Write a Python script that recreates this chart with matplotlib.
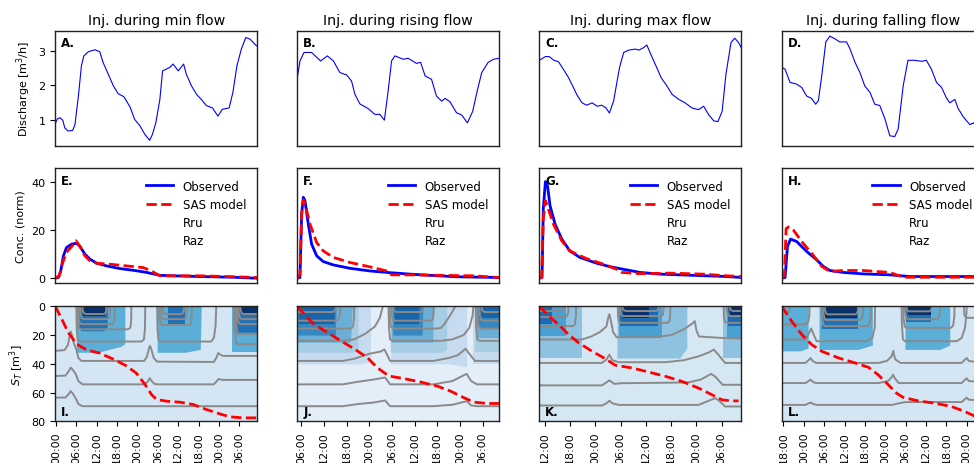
import numpy as np
import matplotlib
matplotlib.use("Agg")
import matplotlib.pyplot as plt

# time windows, hours from midnight of the first day of each window
XLIM_MIN = (-0.2, 59.3)
XLIM_RISE = (4.93, 58.45)
XLIM_MAX = (10.65, 58.65)
XLIM_FALL = (17.5, 77.0)

TITLES = ["Inj. during min flow", "Inj. during rising flow",
          "Inj. during max flow", "Inj. during falling flow"]

# discharge [m3/h]  (hour, q)
Q_MIN = [(-0.2,0.88),(0.4,1.02),(1.2,1.05),(2.0,0.98),(2.6,0.75),(3.6,0.66),(4.9,0.68),(5.6,0.85),
         (6.6,1.69),(7.5,2.58),(8.2,2.87),(9.5,2.99),(11.5,3.05),(12.9,2.99),(13.9,2.67),(15.4,2.33),
         (16.9,1.99),(18.3,1.76),(20.0,1.67),(21.8,1.37),(23.2,1.00),(24.7,0.82),(26.2,0.56),(27.6,0.39),
         (28.4,0.56),(29.4,0.90),(30.6,1.59),(31.4,2.43),(32.5,2.48),(33.5,2.53),(34.5,2.63),(36.0,2.43),
         (37.6,2.63),(38.4,2.33),(39.9,1.99),(41.4,1.74),(42.8,1.59),(44.3,1.41),(46.1,1.34),(47.7,1.10),
         (49.0,1.30),(51.0,1.34),(52.1,1.79),(53.3,2.58),(54.6,3.07),(55.9,3.41),(57.2,3.36),(58.5,3.22),
         (59.3,3.15)]
Q_RISE = [(4.93,2.23),(5.64,2.72),(6.70,2.97),(8.73,2.97),(11.1,2.72),(12.9,2.87),(14.5,2.72),(16.2,2.38),
          (18.0,2.31),(19.3,2.13),(20.2,1.74),(21.5,1.46),(23.7,1.32),(25.5,1.15),(26.8,1.15),(28.0,0.98),
          (29.0,1.84),(29.9,2.72),(30.8,2.87),(33.0,2.77),(34.3,2.80),(36.5,2.65),(37.6,2.68),(38.8,2.28),
          (40.5,2.18),(41.8,1.69),(43.2,1.54),(44.1,1.62),(45.4,1.52),(47.1,1.20),(48.5,1.13),(50.0,0.90),
          (51.4,1.24),(52.6,1.84),(53.8,2.38),(55.5,2.68),(56.9,2.77),(58.45,2.80)]
Q_MAX = [(10.65,2.74),(12.1,2.85),(13.0,2.85),(14.1,2.74),(15.2,2.70),(16.4,2.47),(17.6,2.23),(18.8,1.93),
         (19.6,1.72),(20.8,1.49),(21.9,1.42),(23.2,1.49),(24.4,1.39),(25.5,1.42),(26.5,1.34),(27.3,1.19),
         (28.3,1.54),(29.7,2.52),(30.7,2.97),(31.9,3.04),(33.5,3.07),(34.3,3.04),(35.4,3.11),(36.2,3.19),
         (37.3,2.87),(38.4,2.57),(39.6,2.23),(41.0,1.98),(42.2,1.74),(43.8,1.59),(45.3,1.49),(46.9,1.34),
         (48.5,1.29),(49.7,1.39),(50.9,1.14),(52.1,0.96),(53.1,0.94),(54.1,1.24),(55.0,2.33),(56.2,3.26),
         (57.1,3.39),(58.0,3.26),(58.65,3.11)]
Q_FALL = [(17.5,2.53),(18.5,2.48),(19.95,2.09),(21.9,2.04),(23.4,1.94),(24.85,1.69),(26.3,1.62),(27.5,1.45),
          (28.3,1.55),(29.3,2.29),(30.5,3.28),(31.7,3.45),(33.2,3.37),(34.6,3.28),(36.6,3.28),(37.6,3.08),
          (39.1,2.68),(40.5,2.39),(42.0,1.98),(43.5,1.80),(44.9,1.45),(46.4,1.41),(47.9,1.02),(49.35,0.52),
          (50.8,0.50),(51.8,0.72),(53.3,2.00),(54.7,2.74),(56.7,2.74),(58.7,2.71),(60.1,2.74),(61.6,2.48),
          (63.1,2.09),(64.6,1.94),(66.0,1.64),(67.0,1.49),(68.5,1.59),(69.4,1.34),(70.9,1.09),(72.9,0.85),
          (74.0,0.90),(74.6,0.82)]

# normalised concentration  (hour, c)
OBS_MIN = [(-0.2,0),(0.7,0.3),(1.4,3.0),(2.2,9.3),(3.1,12.7),(4.6,14.1),(6.1,14.5),(7.1,13.1),(8.5,10.0),
           (10.0,7.9),(12.0,6.2),(14.9,5.1),(18.8,4.0),(22.7,3.3),(26.7,2.4),(30.6,1.2),(34.5,1.0),
           (42.3,0.7),(52.1,0.4),(59.3,0.0)]
SAS_MIN = [(-0.2,0),(1.0,1.0),(2.0,6.5),(3.1,10.7),(4.6,13.1),(5.9,15.5),(7.1,13.1),(8.5,9.3),(10.0,7.2),
           (12.0,6.2),(15.9,5.8),(20.8,5.1),(25.7,4.4),(28.1,3.0),(30.6,1.0),(34.5,1.0),(42.3,1.0),
           (50.2,0.7),(59.3,0.3)]
OBS_RISE = [(4.93,0),(5.64,0.3),(6.08,26.6),(6.52,33.5),(6.96,32.1),(7.84,22.4),(8.73,14.1),(10.05,9.3),
            (11.8,6.9),(14.5,5.5),(18.9,4.1),(24.2,3.0),(29.5,2.3),(34.8,1.7),(40.1,1.2),(47.1,0.6),
            (58.45,0.3)]
SAS_RISE = [(4.93,0),(5.64,1.7),(6.08,26.6),(6.52,32.4),(7.2,29.4),(8.3,22.4),(10.05,14.8),(11.8,11.3),
            (14.5,8.6),(18.9,6.5),(24.2,4.7),(28.6,3.0),(29.9,1.4),(34.8,1.4),(42.7,1.2),(51.5,1.0),
            (58.45,0.3)]
OBS_MAX = [(10.65,0),(11.3,0.3),(11.6,28.7),(12.1,40.0),(12.6,38.3),(13.2,30.0),(14.4,22.4),(16.0,16.2),
           (17.9,11.3),(20.3,8.6),(24.3,6.2),(27.4,4.8),(30.6,3.7),(34.6,2.4),(39.3,1.7),(47.2,1.2),
           (55.2,0.7),(58.65,0.3)]
SAS_MAX = [(10.65,0),(11.2,0.3),(11.6,24.6),(12.1,32.1),(12.8,28.7),(14.0,22.4),(16.0,15.5),(17.9,11.3),
           (21.9,8.1),(26.6,5.4),(29.0,3.7),(30.2,2.4),(34.6,1.9),(41.7,2.1),(49.6,1.7),(55.2,1.0),
           (58.65,0.7)]
OBS_FALL = [(17.5,0),(18.5,0.3),(19.2,13.1),(20.1,16.2),(21.9,15.2),(24.85,11.1),(27.8,7.6),(29.75,4.9),
            (31.7,3.2),(35.6,2.4),(41.5,1.8),(49.35,1.4),(55.2,0.7),(75.0,0.7)]
SAS_FALL = [(17.5,0),(18.3,1.1),(18.8,20.5),(19.5,21.2),(21.0,19.8),(23.9,14.3),(26.8,9.5),(29.3,4.9),
            (31.7,2.8),(35.6,3.2),(41.5,3.2),(49.35,2.4),(53.3,0.4),(59.2,0.4),(75.0,0.4)]

# tracer position in age-ranked storage S_T [m3]  (hour, S_T)
ST_MIN = [(-0.2,0),(1.7,8.9),(3.6,18.2),(6.1,26.3),(9.0,30.3),(12.9,32.6),(16.9,36.8),(20.8,41.5),
          (23.7,46.6),(26.2,54.3),(28.1,61.3),(29.6,64.8),(32.5,66.0),(36.5,66.7),(40.4,68.3),(44.3,71.8),
          (48.2,74.8),(51.2,76.9),(55.1,77.6),(59.3,77.6)]
ST_RISE = [(4.93,0),(6.7,5.4),(9.3,12.4),(12.9,18.2),(16.4,24.0),(19.9,29.4),(23.5,35.7),(26.1,42.7),
           (29.2,48.5),(33.2,50.3),(37.6,52.7),(42.0,55.5),(45.5,59.0),(49.1,63.6),(51.7,66.7),(55.3,67.6),
           (58.45,67.6)]
ST_MAX = [(10.65,0),(12.9,6.8),(15.2,12.6),(17.6,19.6),(20.0,25.4),(23.2,31.3),(26.3,36.4),(28.7,41.0),
          (32.7,42.9),(36.6,45.7),(40.6,48.7),(44.5,52.2),(48.5,56.9),(51.7,61.6),(54.1,65.1),(56.4,65.8),
          (58.0,65.8)]
ST_FALL = [(17.5,0),(20.4,10.3),(23.4,19.6),(26.3,26.6),(29.3,31.3),(34.2,35.9),(39.1,39.4),(43.0,42.4),
           (45.9,47.6),(48.9,54.6),(51.3,60.4),(53.3,63.4),(57.7,65.8),(62.6,67.4),(67.5,69.7),(71.4,73.2),
           (74.0,76.0),(75.5,78.5)]

# filled storage-selection bands: (level, [(hour, lower S_T edge), ...]) from S_T = 0 down
FILL_MIN = [
    (0, [(6.0,0),(6.0,32),(12.5,32),(15.5,30),(19.0,28),(20.3,26),(20.3,0)]),
    (0, [(29.8,0),(29.8,32),(38.0,32),(42.5,30),(42.8,0)]),
    (0, [(51.8,0),(51.8,32),(59.3,32)]),
    (1, [(6.7,0),(6.7,15),(7.5,17),(14.0,17),(15.1,14),(15.1,0)]),
    (1, [(33.0,0),(33.0,13),(37.9,13),(37.9,0)]),
    (1, [(52.2,0),(52.2,16),(53.0,18),(59.3,18)]),
    (2, [(8.0,0),(8.0,7),(14.4,7),(14.4,0)]),
    (2, [(53.3,0),(53.3,5),(59.3,5)]),
]
FILL_RISE = [
    (0, [(4.93,40),(22.0,40),(24.3,38),(24.3,0)]),
    (0, [(29.6,0),(29.6,40),(45.0,40),(49.8,42),(49.8,0)]),
    (0, [(51.6,0),(51.6,40),(58.45,40)]),
    (1, [(4.93,32),(19.5,32),(21.0,30),(21.0,0)]),
    (1, [(29.6,0),(29.6,32),(43.0,32),(44.5,30),(44.5,0)]),
    (1, [(52.0,0),(52.0,32),(58.45,32)]),
    (2, [(4.93,25),(19.0,25),(19.5,0)]),
    (2, [(29.8,0),(29.8,25),(40.8,25),(41.0,0)]),
    (2, [(52.4,0),(52.4,22),(58.45,22)]),
    (3, [(4.93,20),(15.0,20),(15.2,0)]),
    (3, [(30.2,0),(30.2,20),(38.0,20),(38.2,0)]),
    (3, [(52.8,0),(52.8,15),(58.45,15)]),
    (4, [(5.3,0),(5.3,12),(14.6,12),(14.8,0)]),
    (4, [(30.6,0),(30.6,12),(37.0,12),(37.2,0)]),
    (4, [(53.2,0),(53.2,8),(58.45,8)]),
]
FILL_MAX = [
    (0, [(10.65,36),(20.8,36),(20.8,0)]),
    (0, [(29.1,0),(29.1,36),(44.0,36),(45.7,29),(45.7,0)]),
    (0, [(54.4,0),(54.4,36),(58.65,36)]),
    (1, [(10.65,21),(16.9,21),(16.9,0)]),
    (1, [(29.5,0),(29.5,22),(39.7,22),(39.7,0)]),
    (1, [(55.2,0),(55.2,22),(58.65,22)]),
    (2, [(10.65,12),(13.7,12),(13.7,0)]),
    (2, [(29.9,0),(29.9,14),(38.8,14),(38.8,0)]),
    (2, [(55.6,0),(55.6,14),(58.65,14)]),
    (3, [(30.5,0),(30.5,8),(36.6,8),(36.6,0)]),
    (3, [(56.0,0),(56.0,6),(58.65,6)]),
]
FILL_FALL = [
    (0, [(17.5,31),(23.0,31),(25.3,29),(25.3,0)]),
    (0, [(28.5,0),(28.5,30),(40.0,30),(44.2,27),(44.2,0)]),
    (0, [(53.8,0),(53.8,30),(64.0,30),(67.0,27),(67.0,0)]),
    (1, [(29.3,0),(29.3,16),(40.1,16),(40.1,0)]),
    (1, [(54.2,0),(54.2,11),(61.6,11),(61.6,0)]),
    (2, [(29.8,0),(29.8,8),(39.6,8),(39.6,0)]),
    (2, [(54.7,0),(54.7,6),(61.4,6),(61.4,0)]),
]

# grey contour lines (hour, S_T)
GRAY_MIN = [
    [(7.8,0),(7.9,3.0),(8.2,4.7),(8.8,5.4),(14.0,5.4),(14.6,4.7),(14.85,3.0),(14.9,0)],
    [(7.1,0),(7.2,5.5),(7.5,8.2),(8.1,8.9),(15.0,8.9),(15.6,8.2),(15.85,5.5),(15.9,0)],
    [(6.6,0),(6.7,8.0),(7.0,11.6),(7.7,12.4),(16.4,12.4),(17.0,11.6),(17.25,8.0),(17.3,0)],
    [(6.3,0),(6.4,10.0),(6.7,15.0),(7.4,16.0),(21.2,16.0),(21.9,15.0),(22.15,10.0),(22.2,0)],
    [(6.0,0),(6.1,16.0),(6.4,23.3),(7.1,24.5),(25.2,24.5),(25.9,23.0),(26.2,16.0),(26.3,0)],
    [(-0.2,31),(2.5,30.5),(3.5,27),(4.0,21),(4.3,17.5),(4.7,20),(5.3,26),(6.0,30),(6.6,36),(7.5,38),
     (26.0,38),(26.8,35),(27.4,29),(27.7,27.5),(28.1,30),(28.8,36),(29.8,38.5),(46.5,38.7),(47.3,35.5),
     (47.8,32.5),(48.3,33.5),(49.2,34.5),(59.3,34.5)],
    [(-0.2,48.5),(2.8,48.2),(3.8,45),(4.3,42.7),(4.9,44),(5.8,47),(6.6,52),(7.8,54.3),(26.0,54.3),
     (27.0,52.5),(27.6,50),(28.2,52),(29.0,54),(30.0,54.3),(46.5,54.3),(47.4,52),(47.9,50.5),(48.5,51),
     (49.5,51.2),(59.3,51.2)],
    [(-0.2,63.6),(2.8,63.4),(3.8,61),(4.3,59),(4.9,60.5),(5.8,64),(6.6,68),(7.8,69.5),(59.3,69.5)],
    [(31.3,0),(31.4,3.0),(31.7,4.7),(32.3,5.4),(37.0,5.4),(37.4,4.7),(37.65,3.0),(37.7,0)],
    [(30.8,0),(30.9,5.5),(31.2,8.2),(31.8,8.9),(37.8,8.9),(38.2,8.2),(38.45,5.5),(38.5,0)],
    [(30.4,0),(30.5,8.0),(30.8,12.2),(31.4,13.0),(39.3,13.0),(39.7,12.2),(39.95,8.0),(40.0,0)],
    [(29.8,0),(29.9,16.0),(30.2,23.3),(30.9,24.5),(45.7,24.5),(46.5,22.0),(47.0,14.0),(47.2,0)],
    [(54.3,0),(54.4,3.0),(54.7,4.7),(55.3,5.4),(59.3,5.4)],
    [(53.8,0),(53.9,5.5),(54.2,8.2),(54.8,8.9),(59.3,8.9)],
    [(53.4,0),(53.5,8.0),(53.8,11.6),(54.4,12.4),(59.3,12.4)],
    [(53.0,0),(53.1,12.0),(53.4,18.3),(54.0,19.3),(59.3,19.3)],
    [(52.6,0),(52.7,16.0),(53.0,25.3),(53.6,26.3),(59.3,26.3)],
]
GRAY_RISE = [
    [(4.93,4),(14.3,4),(14.9,3),(15.15,1.5),(15.2,0)],
    [(4.93,10),(15.3,10),(15.9,9),(16.25,5),(16.3,0)],
    [(4.93,15.5),(19.0,15.5),(19.7,14),(19.95,8),(20.0,0)],
    [(4.93,24),(17.0,24),(20.0,23),(23.0,19),(25.5,14),(26.8,8),(27.6,0)],
    [(4.93,38),(17.0,38),(20.0,36.5),(24.0,33),(27.0,31.5),(28.0,30),(28.6,33),(29.5,38),(41.0,38),
     (45.0,36),(47.5,34),(49.5,29.5),(50.5,33),(52.0,38),(58.45,38)],
    [(4.93,54.3),(17.0,54.3),(21.0,52.5),(25.0,51),(28.2,49.5),(29.5,54.3),(41.0,54.3),(46.0,52),
     (49.8,47),(51.0,52),(52.5,54.3),(58.45,54.3)],
    [(4.93,69.5),(17.0,69.5),(21.0,68),(25.0,67),(28.2,65.5),(29.5,69.5),(41.0,69.5),(46.0,68.5),
     (49.8,66),(51.0,69),(52.5,69.5),(58.45,69.5)],
    [(30.4,0),(30.5,2.5),(30.8,3.6),(31.3,4),(37.6,4),(38.1,3.2),(38.35,1.5),(38.4,0)],
    [(29.8,0),(29.9,6),(30.2,9.2),(30.8,10),(40.3,10),(40.8,9),(41.05,5),(41.1,0)],
    [(29.4,0),(29.5,9),(29.8,14.6),(30.4,15.5),(42.0,15.5),(43.0,15),(44.0,12),(45.5,6),(46.8,0)],
    [(29.1,0),(29.2,14),(29.5,23),(30.1,24),(43.0,24),(46.0,23),(49.0,20),(50.5,15),(51.4,6),(51.6,0)],
    [(53.8,0),(53.9,2.5),(54.2,3.6),(54.7,4),(58.45,4)],
    [(53.2,0),(53.3,6),(53.6,9.2),(54.2,10),(58.45,10)],
    [(52.6,0),(52.7,9),(53.0,14.6),(53.6,15.5),(58.45,15.5)],
    [(52.2,0),(52.3,14),(52.6,23),(53.2,24),(58.45,24)],
]
GRAY_MAX = [
    [(10.65,3.3),(15.8,3.3),(16.3,2.6),(16.55,1.2),(16.6,0)],
    [(10.65,7.5),(16.8,7.5),(17.3,6.6),(17.55,4),(17.6,0)],
    [(10.65,13.8),(18.6,13.8),(19.1,12.6),(19.35,7),(19.4,0)],
    [(10.65,23.1),(20.8,23.1),(23.0,21),(25.0,18),(26.6,14),(27.1,7),(27.3,5.6),(27.6,9),(28.2,18),
     (29.0,21.5),(38.0,21.5),(42.0,20),(45.0,16),(47.0,12),(47.6,10.3),(48.0,17),(48.6,21),(54.0,22),
     (58.65,22.5)],
    [(10.65,39.4),(25.5,39.4),(26.6,37),(27.3,33.6),(28.0,37.5),(29.5,38.9),(40.6,38.9),(45.0,37.5),
     (48.5,34.8),(51.0,32),(52.1,30.1),(53.0,33),(54.8,39.4),(58.65,39.4)],
    [(10.65,55),(25.5,55),(26.6,53),(27.3,51.5),(28.5,54),(30.0,53.5),(46.0,53),(49.0,51),(51.5,47),
     (52.5,49),(54.2,54.6),(58.65,54.6)],
    [(10.65,69),(25.5,69),(26.6,67.5),(27.3,65.7),(28.0,67.5),(29.5,68.6),(48.5,68.6),(51.5,65),
     (52.5,63.9),(53.5,66),(54.8,69.7),(58.65,69.7)],
    [(30.45,0),(30.5,1.8),(30.8,2.9),(31.2,3.3),(38.4,3.3),(38.8,2.6),(38.95,1.2),(39.0,0)],
    [(29.9,0),(29.95,4),(30.2,6.1),(30.7,6.8),(39.6,6.8),(40.0,6.0),(40.15,3.5),(40.2,0)],
    [(29.3,0),(29.35,7),(29.6,10.7),(30.2,11.5),(41.1,11.5),(41.6,10.4),(41.75,6),(41.8,0)],
    [(56.0,0),(56.05,1.8),(56.3,2.9),(56.7,3.3),(58.65,3.3)],
    [(55.2,0),(55.25,4),(55.5,6.1),(56.0,6.8),(58.65,6.8)],
    [(54.45,0),(54.5,7),(54.75,10.7),(55.3,11.5),(58.65,11.5)],
]
GRAY_FALL = [
    [(17.5,4),(19.3,4),(19.8,3),(19.95,1.5),(20.0,0)],
    [(17.5,12.6),(24.6,12.6),(25.3,11),(25.65,6),(25.7,0)],
    [(17.5,23.1),(24.6,23.1),(25.6,18.5),(26.2,15.4),(26.8,19),(27.8,24.3),(42.5,24.3),(44.2,22),
     (44.9,15),(45.0,0)],
    [(30.2,0),(30.3,3),(30.6,5),(31.1,5.6),(39.2,5.6),(39.7,4.8),(39.95,3),(40.0,0)],
    [(29.75,0),(29.85,5.5),(30.1,8.7),(30.6,9.5),(40.6,9.5),(41.1,8.5),(41.45,5),(41.5,0)],
    [(29.3,0),(29.4,8),(29.7,12.8),(30.3,13.8),(42.8,13.8),(43.4,12.3),(43.75,7),(43.8,0)],
    [(17.5,39.4),(24.5,39.4),(25.4,37.5),(26.0,36),(26.6,38),(27.6,39.4),(46.0,39.4),(48.5,38),
     (49.8,35),(50.4,31),(50.6,34),(51.0,37),(52.5,39.4),(70.5,39.4),(71.5,37),(72.0,36),(72.6,38),
     (74.0,38.5),(77.0,38.5)],
    [(17.5,53.4),(24.5,53.4),(25.4,52),(26.0,51),(26.6,52.5),(27.6,53.4),(46.0,53.4),(48.8,52),
     (50.0,49),(50.3,47.5),(50.8,50),(52.0,53.4),(70.5,53.4),(71.5,51),(72.0,50),(72.6,52),(77.0,52.5)],
    [(17.5,68.6),(24.5,68.6),(25.4,67.5),(26.2,67),(26.8,68),(28.0,68.6),(50.0,68.6),(52.0,67.5),
     (54.0,66.6),(70.5,66.6),(71.5,64.5),(72.0,63.5),(72.6,65),(77.0,65.5)],
    [(54.3,0),(54.35,2),(54.6,3.1),(55.0,3.5),(61.0,3.5),(61.4,2.8),(61.65,1.5),(61.7,0)],
    [(53.8,0),(53.9,5),(54.2,8),(54.7,9),(63.3,9),(63.8,8),(64.15,4.5),(64.2,0)],
    [(53.3,0),(53.4,8),(53.7,14),(54.3,15),(67.3,15),(68.0,13.5),(68.35,7),(68.4,0)],
    [(52.8,0),(52.9,12),(53.2,23),(53.8,24.3),(69.0,24.3),(70.5,22),(71.5,15),(71.9,5),(72.0,0)],
    [(71.2,0),(71.3,6),(71.8,8),(77.0,8)],
]

# ---------------- styling ----------------
BG = ["#d4e6f4", "#e3eef9", "#d6e7f4", "#d4e6f4"]
PALETTES = [
    ["#5aaed8", "#2171b5", "#08306b"],
    ["#c6dbef", "#a6cde4", "#6baed6", "#3787c0", "#1764ab"],
    ["#8fc2e0", "#4a9fd3", "#1c6ab0", "#08306b"],
    ["#5aaed8", "#2171b5", "#08306b"],
]

W, H = 974, 464
COL_X = [55.3, 297.3, 539.3, 781.7]
ROW_Y = [31.7, 169.3, 307.3]
AX_W, AX_H = 202, 115

fig = plt.figure(figsize=(W / 100, H / 100), dpi=100)


def add_ax(r, c):
    return fig.add_axes([COL_X[c] / W, 1 - (ROW_Y[r] + AX_H) / H, AX_W / W, AX_H / H])


def xy(pts):
    a = np.array(pts, dtype=float)
    return a[:, 0], a[:, 1]


columns = [
    (XLIM_MIN, Q_MIN, OBS_MIN, SAS_MIN, ST_MIN, FILL_MIN, GRAY_MIN),
    (XLIM_RISE, Q_RISE, OBS_RISE, SAS_RISE, ST_RISE, FILL_RISE, GRAY_RISE),
    (XLIM_MAX, Q_MAX, OBS_MAX, SAS_MAX, ST_MAX, FILL_MAX, GRAY_MAX),
    (XLIM_FALL, Q_FALL, OBS_FALL, SAS_FALL, ST_FALL, FILL_FALL, GRAY_FALL),
]
letters = "ABCDEFGHIJKL"

for c, (xlim, q, obs, sas, st, fills, grays) in enumerate(columns):
    axq = add_ax(0, c)
    axc = add_ax(1, c)
    axs = add_ax(2, c)

    t, v = xy(q)
    axq.plot(t, v, color="#0000ff", lw=0.8)
    axq.set_ylim(0.23, 3.61)
    axq.set_yticks([1, 2, 3])
    axq.set_title(TITLES[c], fontsize=10.3, pad=5)

    t, v = xy(obs)
    axc.plot(t, v, color="#0000ff", lw=2, label="Observed")
    t, v = xy(sas)
    axc.plot(t, v, color="red", lw=2, ls="--", label="SAS model")
    axc.plot([], [], " ", label="Rru")
    axc.plot([], [], " ", label="Raz")
    axc.set_ylim(-2.1, 45.5)
    axc.set_yticks([0, 20, 40])
    axc.legend(loc="upper right", frameon=False, fontsize=8.5, handlelength=2.3,
               borderaxespad=0.55, labelspacing=0.45)

    axs.set_facecolor(BG[c])
    for level, block in fills:
        t, d = xy(block)
        axs.fill_between(t, 0, d, color=PALETTES[c][level], lw=0)
    for line in grays:
        t, s = xy(line)
        axs.plot(t, s, color="#8a8a8a", lw=1.4, solid_capstyle="round")
    t, s = xy(st)
    axs.plot(t, s, color="red", lw=2, ls="--")
    axs.set_ylim(80, 0)
    axs.set_yticks([0, 20, 40, 60, 80])

    ticks = np.arange(np.ceil(xlim[0] / 6) * 6, xlim[1], 6)
    axs.set_xticks(ticks)
    axs.set_xticklabels([f"{int(h) % 24:02d}:00" for h in ticks], rotation=90)

    for r, ax in enumerate((axq, axc, axs)):
        ax.set_xlim(*xlim)
        for sp in ax.spines.values():
            sp.set_linewidth(1.0)
            sp.set_color("#222222")
        ax.tick_params(labelsize=8, length=3.5, width=0.8)
        if r < 2:
            ax.tick_params(bottom=False, labelbottom=False)
        if c > 0:
            ax.tick_params(left=False, labelleft=False)
        lab = letters[r * 4 + c] + "."
        if r < 2:
            ax.text(0.03, 0.95, lab, transform=ax.transAxes, fontsize=8.5,
                    fontweight="bold", va="top", ha="left")
        else:
            ax.text(0.03, 0.03, lab, transform=ax.transAxes, fontsize=8.5,
                    fontweight="bold", va="bottom", ha="left")

    if c == 0:
        axq.set_ylabel("Discharge [m$^3$/h]", fontsize=8)
        axc.set_ylabel("Conc. (norm)", fontsize=8)
        axs.set_ylabel("$S_T$ [m$^3$]", fontsize=8)

fig.savefig("out.png", dpi=100)
